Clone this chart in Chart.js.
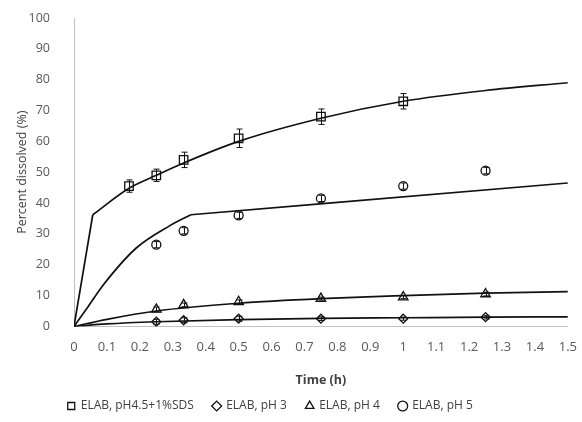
<!DOCTYPE html>
<html>
<head>
<meta charset="utf-8">
<script src="https://cdn.jsdelivr.net/npm/chart.js@4"></script>
<style>
  html, body { margin: 0; padding: 0; background: #fff; }
  #wrap { width: 582px; height: 422px; }
</style>
</head>
<body>
<div id="wrap"><canvas id="myChart" width="582" height="422"></canvas></div>
<script>
// sampling times (h)
const tSds = [0.167, 0.25, 0.333, 0.5, 0.75, 1.0];
const tPh = [0.25, 0.333, 0.5, 0.75, 1.0, 1.25];

// measured percent dissolved
const sds = [45.5, 49, 54, 61, 68, 73];
const sdsErr = [2, 2, 2.5, 3, 2.5, 2.5];
const ph3 = [1.5, 2, 2.5, 2.5, 2.5, 3];
const ph3Err = [0.8, 0.8, 0.8, 0.6, 0.5, 0.6];
const ph4 = [5.5, 7, 8, 9, 9.5, 10.5];
const ph4Err = [0.8, 0.6, 0.6, 0.5, 0.5, 0.6];
const ph5 = [26.5, 31, 36, 41.5, 45.5, 50.5];
const ph5Err = [1, 1, 1, 1, 1, 1];

// fitted model curves, split at the knee of each burst phase
const fitSdsBurstT = [0, 0.057];
const fitSdsBurst = [0, 36.2];
const fitSdsT = [0.057, 0.167, 0.25, 0.333, 0.5, 0.75, 1.0, 1.25, 1.5];
const fitSds = [36.2, 44.8, 49, 53, 60, 67.5, 73, 76.5, 79];
const fitPh5BurstT = [0, 0.04, 0.09, 0.19, 0.29, 0.355];
const fitPh5Burst = [0, 6, 13.6, 25.5, 32.6, 36.2];
const fitPh5T = [0.355, 1.5];
const fitPh5 = [36.2, 46.5];
const fitPhT = [0, 0.1, 0.25, 0.5, 0.75, 1.0, 1.25, 1.5];
const fitPh4 = [0, 2.3, 5, 7.5, 9, 10, 10.8, 11.3];
const fitPh3 = [0, 0.8, 1.5, 2.2, 2.6, 2.8, 3.0, 3.1];

const xy = (xs, ys) => xs.map((x, i) => ({ x: x, y: ys[i] }));

const markerSet = (label, style, xs, ys, errs, radius) => ({
  label: label,
  data: xy(xs, ys),
  errs: errs,
  showLine: false,
  pointStyle: style,
  pointRadius: radius,
  pointBorderWidth: 1.3,
  borderColor: '#111',
  backgroundColor: 'rgba(0,0,0,0)',
  order: 1
});

const fitLine = (xs, ys) => ({
  label: '',
  data: xy(xs, ys),
  showLine: true,
  pointRadius: 0,
  borderColor: '#111',
  borderWidth: 1.7,
  cubicInterpolationMode: 'monotone',
  order: 2
});

// vertical error bars with small caps
const errorBars = {
  id: 'errorBars',
  afterDatasetsDraw(chart) {
    const c = chart.ctx;
    const xs = chart.scales.x, ys = chart.scales.y;
    c.save();
    c.strokeStyle = '#111';
    c.lineWidth = 1;
    chart.data.datasets.forEach(ds => {
      if (!ds.errs) return;
      ds.data.forEach((p, i) => {
        const px = Math.round(xs.getPixelForValue(p.x)) + 0.5;
        const hi = ys.getPixelForValue(p.y + ds.errs[i]);
        const lo = ys.getPixelForValue(p.y - ds.errs[i]);
        c.beginPath();
        c.moveTo(px, hi); c.lineTo(px, lo);
        c.moveTo(px - 3, hi); c.lineTo(px + 3, hi);
        c.moveTo(px - 3, lo); c.lineTo(px + 3, lo);
        c.stroke();
      });
    });
    c.restore();
  }
};

Chart.defaults.font.family = "'Open Sans', 'Liberation Sans', sans-serif";
Chart.defaults.color = '#595959';

new Chart(document.getElementById('myChart'), {
  type: 'scatter',
  data: {
    datasets: [
      markerSet('ELAB, pH4.5+1%SDS', 'rect', tSds, sds, sdsErr, 6),
      markerSet('ELAB, pH 3', 'rectRot', tPh, ph3, ph3Err, 4.5),
      markerSet('ELAB, pH 4', 'triangle', tPh, ph4, ph4Err, 5.5),
      markerSet('ELAB, pH 5', 'circle', tPh, ph5, ph5Err, 4.5),
      fitLine(fitSdsBurstT, fitSdsBurst),
      fitLine(fitSdsT, fitSds),
      fitLine(fitPh5BurstT, fitPh5Burst),
      fitLine(fitPh5T, fitPh5),
      fitLine(fitPhT, fitPh4),
      fitLine(fitPhT, fitPh3)
    ]
  },
  plugins: [errorBars],
  options: {
    responsive: false,
    animation: false,
    layout: { padding: { left: 8, right: 12, top: 18, bottom: 0 } },
    plugins: {
      tooltip: { enabled: false },
      legend: {
        position: 'bottom',
        labels: {
          usePointStyle: true,
          boxWidth: 7,
          boxHeight: 7,
          padding: 10,
          color: '#404040',
          font: { size: 12 },
          filter: item => item.text !== '',
          // extra space after the labels; the wider tail on the last one
          // sits the row a little left of centre
          generateLabels: chart => {
            const items = Chart.defaults.plugins.legend.labels.generateLabels(chart);
            items.forEach((item, i) => {
              if (item.text) item.text += i === 3 ? '            ' : '   ';
            });
            return items;
          }
        }
      }
    },
    scales: {
      x: {
        type: 'linear',
        min: 0,
        max: 1.5,
        grid: { display: false },
        border: { color: '#bfbfbf', width: 1 },
        ticks: {
          stepSize: 0.1,
          padding: 5,
          font: { size: 13 },
          callback: v => String(Number(v.toFixed(1)))
        },
        title: {
          display: true,
          text: 'Time (h)',
          color: '#404040',
          font: { size: 12.5, weight: 'bold' },
          padding: { top: 13, bottom: 2 }
        }
      },
      y: {
        min: 0,
        max: 100,
        grid: { display: false },
        border: { color: '#bfbfbf', width: 1 },
        ticks: { stepSize: 10, padding: 16, font: { size: 12.5 } },
        afterFit: scale => {
          scale.width = 66;
          scale.paddingTop = 0;
        },
        title: {
          display: true,
          text: 'Percent dissolved (%)',
          color: '#404040',
          font: { size: 12.5 },
          padding: { top: 7, bottom: 7 }
        }
      }
    }
  }
});
</script>
</body>
</html>
